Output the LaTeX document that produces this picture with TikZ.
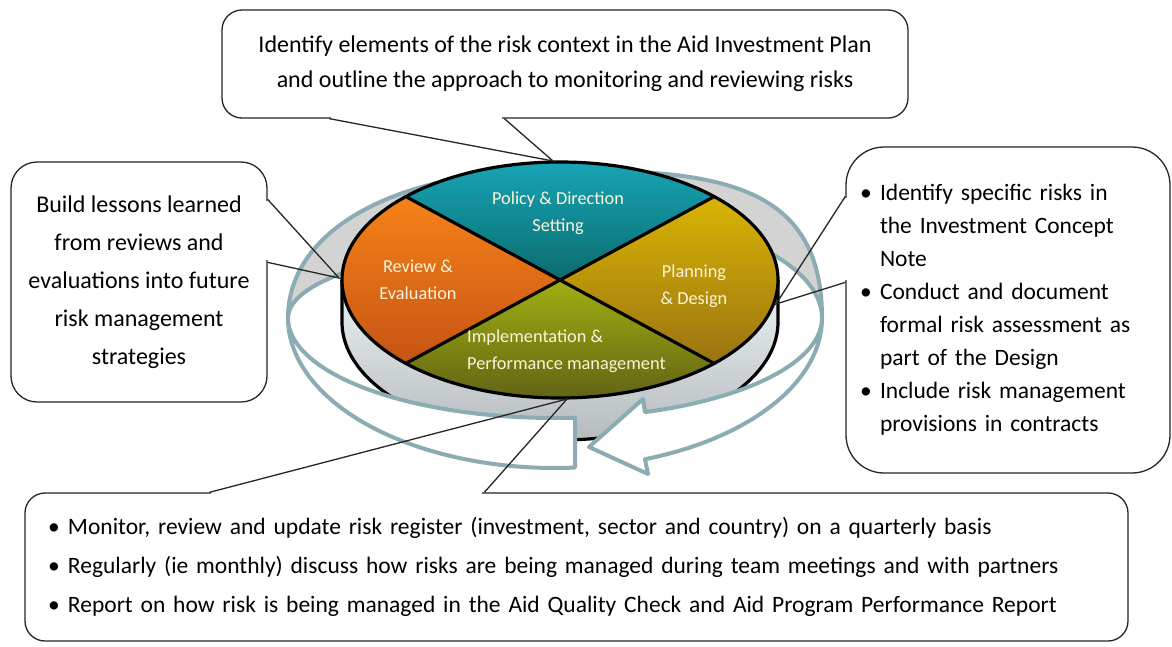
\documentclass[tikz,border=0pt]{standalone}
\usepackage{fontspec}
\setmainfont{Carlito}
\usetikzlibrary{calc}
\definecolor{ringteal}{RGB}{138,172,178}
\definecolor{ringback}{RGB}{211,211,211}
\definecolor{labelcream}{RGB}{251,244,218}
\definecolor{policytop}{RGB}{24,170,188}
\definecolor{policybot}{RGB}{11,108,110}
\definecolor{plantop}{RGB}{218,180,4}
\definecolor{planbot}{RGB}{154,116,16}
\definecolor{impltop}{RGB}{160,176,18}
\definecolor{implbot}{RGB}{92,92,20}
\definecolor{reviewtop}{RGB}{246,130,24}
\definecolor{reviewbot}{RGB}{198,84,20}
\definecolor{sidetop}{RGB}{236,242,244}
\definecolor{sidebot}{RGB}{182,188,190}
\newcommand\bul{\makebox[20pt][l]{\textbullet}}
\newcommand\bulind{\hspace*{20pt}}

\begin{document}
\begin{tikzpicture}[x=1pt,y=-1pt,
  bubble/.style={draw=black!85,line width=1.3pt,fill=white,rounded corners=#1,inner sep=0pt},
  bubble/.default=20,
  pointer/.style={draw=black!85,line width=1.3pt},
  ring/.style={draw=ringteal,line width=4pt,line join=round},
  rim/.style={draw=black,line width=3.2pt},
  disclabel/.style={text=labelcream,font=\fontsize{18.3}{27}\selectfont,align=center,inner sep=0pt}]
\fill[white] (0,0) rectangle (1172,646);
\useasboundingbox (0,0) rectangle (1172,646);
\coordinate (C) at (560,280);
\coordinate (tipT) at (553,161);
\coordinate (tipL) at (339,278);
\coordinate (tipR) at (776,304);
\coordinate (tipB) at (567,399);

\draw[ring,fill=ringback] (288,318) .. controls (288,228) and (400,170) .. (555,170)
  .. controls (712,170) and (822,180) .. (822,318)
  arc[start angle=0,end angle=-60,x radius=267,y radius=110] -- (421.5,253.9)
  arc[start angle=-120,end angle=-180,x radius=267,y radius=74] -- cycle;

\shade[top color=sidetop,bottom color=sidebot] (342,280) -- (342,322)
  arc[start angle=180,end angle=0,x radius=218,y radius=118] -- (778,280)
  arc[start angle=0,end angle=180,x radius=218,y radius=118] -- cycle;
\draw[rim] (342,280) -- (342,322) arc[start angle=180,end angle=0,x radius=218,y radius=118] -- (778,280);
\foreach \a/\ct/\cb in {225/policytop/policybot,315/plantop/planbot,45/impltop/implbot,135/reviewtop/reviewbot}
  \shade[top color=\ct,bottom color=\cb] (C) -- +(\a:218 and 118)
    arc[start angle=\a,delta angle=90,x radius=218,y radius=118] -- cycle;
\draw[rim] (C) ellipse[x radius=218,y radius=118];
\draw[rim] (C) +(225:218 and 118) -- +(45:218 and 118);
\draw[rim] (C) +(315:218 and 118) -- +(135:218 and 118);

\draw[ring,fill=white] (575,417.7) arc[start angle=85.7,end angle=180,x radius=267,y radius=100]
  arc[start angle=180,end angle=85.7,x radius=267,y radius=150] -- cycle;
\draw[ring,fill=white] (645,412.2) -- (643,399) -- (589,447) -- (648,474) -- (645,459.2)
  arc[start angle=70.3,end angle=0,x radius=267,y radius=150]
  arc[start angle=0,end angle=70.3,x radius=267,y radius=100] -- cycle;

\node[disclabel] (policy) at (558,213) {Policy \& Direction\\Setting};
\node[disclabel] (review) at (418,280) {Review \&\\Evaluation};
\node[disclabel] (planning) at (694,286) {Planning\\\& Design};
\node[disclabel,anchor=west,align=left] (impl) at (467,351) {Implementation \&\\Performance management};

\node[bubble,minimum width=686,minimum height=108,align=center,font=\fontsize{24}{35}\selectfont] (context) at (565,64)
  {Identify elements of the risk context in the Aid Investment Plan\\and outline the approach to monitoring and reviewing risks};
\node[bubble=26,minimum width=256,minimum height=240,align=center,font=\fontsize{24}{38}\selectfont] (lessons) at (139,282)
  {Build lessons learned\\from reviews and\\evaluations into future\\risk management\\strategies};
\node[bubble=38,text width=296,inner xsep=14,minimum height=326,align=left,font=\fontsize{23.5}{33}\selectfont] (design) at (1008,310)
  {\bul Identify specific risks in\\\bulind the Investment Concept\\\bulind Note\\
   \bul Conduct and document\\\bulind formal risk assessment as\\\bulind part of the Design\\
   \bul Include risk management\\\bulind provisions in contracts};
\node[bubble,text width=1057,inner xsep=23,minimum height=148,align=left,font=\fontsize{23.5}{39}\selectfont] (monitor) at (576.5,567)
  {\bul Monitor, review and update risk register (investment, sector and country) on a quarterly basis\\
   \bul Regularly (ie monthly) discuss how risks are being managed during team meetings and with partners\\
   \bul Report on how risk is being managed in the Aid Quality Check and Aid Program Performance Report};

\draw[white,line width=3pt] ($(context.south west)+(110,0)$) -- ($(context.south west)+(281,0)$);
\draw[pointer] ($(context.south west)+(108,0)$) -- (tipT) -- ($(context.south west)+(283,0)$);
\draw[white,line width=3pt] ($(lessons.north east)+(0,40)$) -- ($(lessons.north east)+(0,99)$);
\draw[pointer] ($(lessons.north east)+(0,38)$) -- (tipL) -- ($(lessons.north east)+(0,101)$);
\draw[white,line width=3pt] ($(design.north west)+(0,52)$) -- ($(design.north west)+(0,134)$);
\draw[pointer] ($(design.north west)+(0,50)$) -- (tipR) -- ($(design.north west)+(0,136)$);
\draw[white,line width=3pt] ($(monitor.north west)+(187,0)$) -- ($(monitor.north west)+(458,0)$);
\draw[pointer] ($(monitor.north west)+(185,0)$) -- (tipB) -- ($(monitor.north west)+(460,0)$);
\end{tikzpicture}
\end{document}
